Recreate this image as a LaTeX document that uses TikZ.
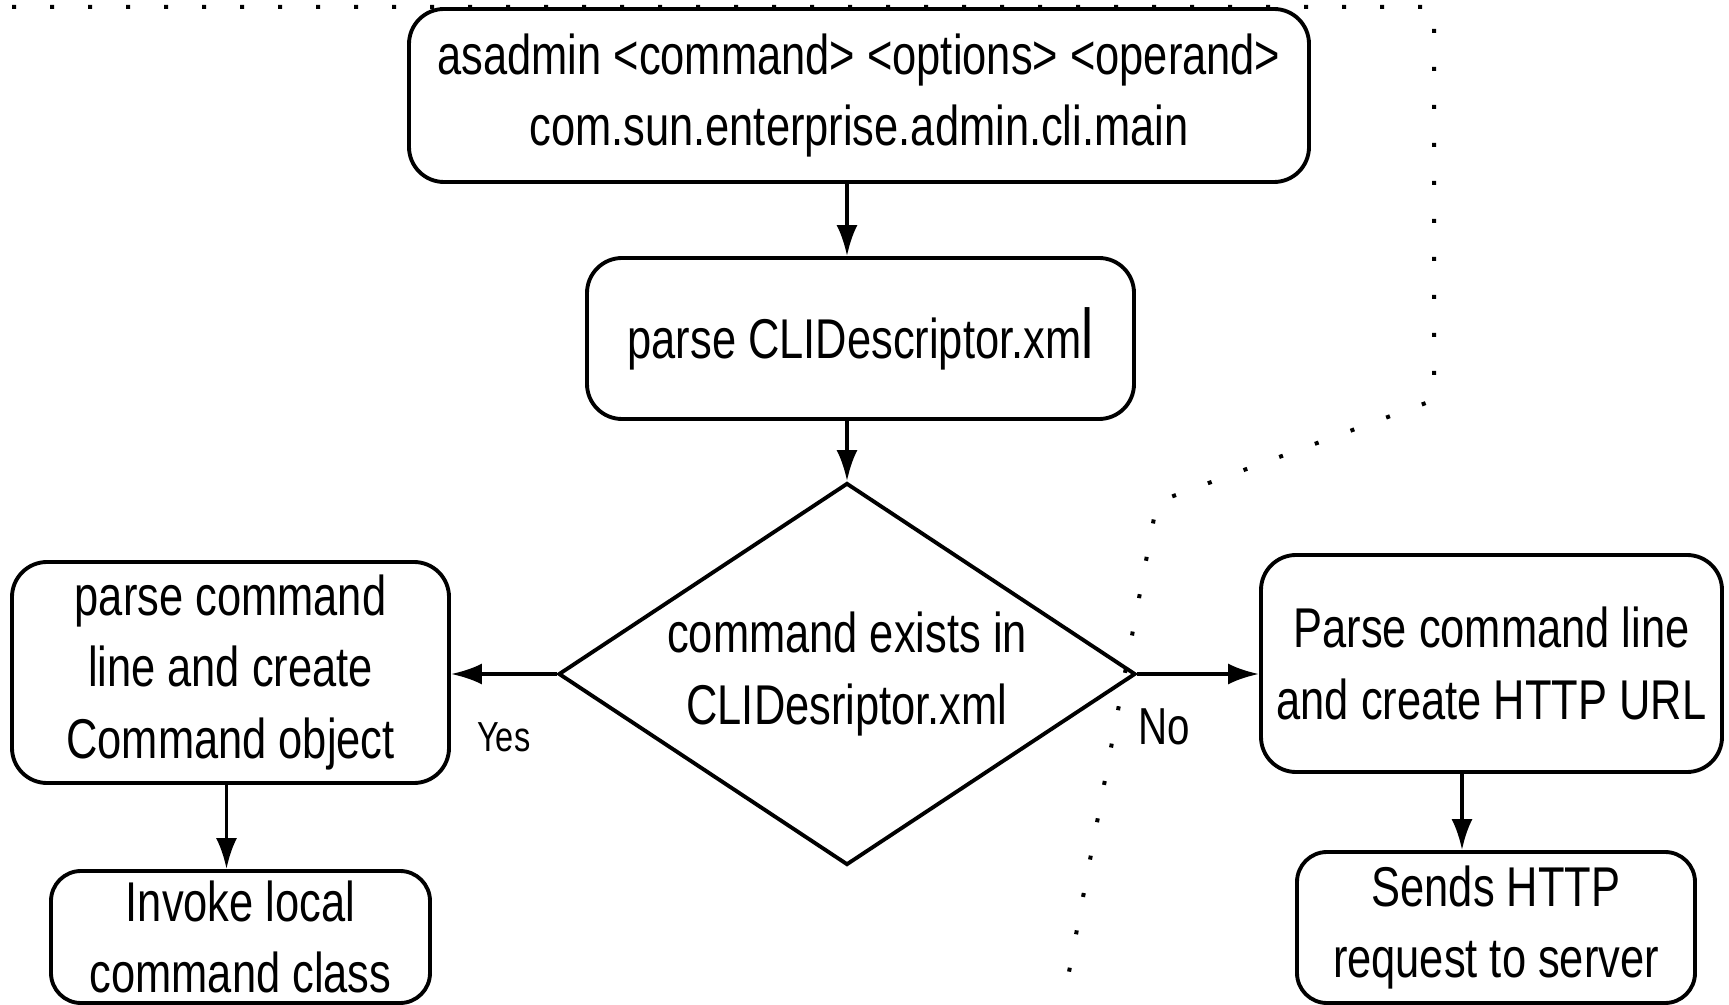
\documentclass[tikz,border=0pt]{standalone}
\usepackage{fontspec}
\setmainfont{Liberation Sans}[FakeStretch=0.775]
\usetikzlibrary{shapes,arrows.meta}
\usetikzlibrary{calc,positioning}
\newcommand{\mainsize}{\fontsize{31.9pt}{40.8pt}\selectfont}
\tikzstyle{procbox} = [rectangle,rounded corners=0.7cm,align=center,draw=black,line width=2.2pt,inner sep=0pt,font=\mainsize]
\tikzstyle{decision} = [diamond,aspect=1.5,align=center,draw=black,line width=2.2pt,inner sep=0pt,font=\mainsize]
\tikzstyle{branch} = [inner sep=0pt]
\tikzstyle{boundary} = [-,line width=0.08cm,dash pattern=on 0.08cm off 0.68cm]

\begin{document}
\begin{tikzpicture}[->,>={Latex[length=0.62cm,width=0.42cm]},line width=2.2pt]
\useasboundingbox (0,0) rectangle (34.58,20.08);

\node (cmd) [procbox,minimum width=18cm,minimum height=3.46cm] at (17.18,18.17) {asadmin <command> <options> <operand>\\com.sun.enterprise.admin.cli.main};
\node (xml) [procbox,minimum width=10.94cm,minimum height=3.22cm] at (17.21,13.31) {parse CLIDescriptor.xm{\fontsize{40pt}{40pt}\selectfont l}};
\node (chk) [decision,minimum width=11.54cm,minimum height=7.64cm] at (16.94,6.6) {command exists in\\CLIDesriptor.xml};
\node (loc1) [procbox,minimum width=8.74cm,minimum height=4.42cm] at (4.61,6.63) {parse command\\line and create\\Command object};
\node (loc2) [procbox,rounded corners=0.6cm,minimum width=7.58cm,minimum height=2.64cm] at (4.81,1.34) {Invoke local\\command class};
\node (rem1) [procbox,minimum width=9.22cm,minimum height=4.34cm] at (29.83,6.81) {Parse command line\\and create HTTP URL};
\node (rem2) [procbox,rounded corners=0.6cm,minimum width=7.96cm,minimum height=3.02cm] at (29.92,1.53) {Sends HTTP\\request to server};

% client / server boundary
\draw[boundary] (0.24,19.94) -- (28.68,19.94) -- (28.68,12.08) -- (23.14,10.04) -- (21.26,0);

\draw (cmd.south -| chk.north) -- (xml.north -| chk.north);
\draw (xml.south -| chk.north) -- (chk.north);
\draw (chk.west) -- node[branch,below=0.94cm,font=\fontsize{23.9pt}{28pt}\selectfont]{Yes} (chk.west -| loc1.east);
\draw (chk.east) -- node[branch,below=0.65cm,pos=0.22,font=\fontsize{29.6pt}{34pt}\selectfont]{No} (chk.east -| rem1.west);
\draw ([xshift=-0.08cm]loc1.south) -- ([xshift=-0.08cm]loc1.south |- loc2.north);
\draw ([xshift=-0.59cm]rem1.south) -- ([xshift=-0.59cm]rem1.south |- rem2.north);

\end{tikzpicture}
\end{document}
